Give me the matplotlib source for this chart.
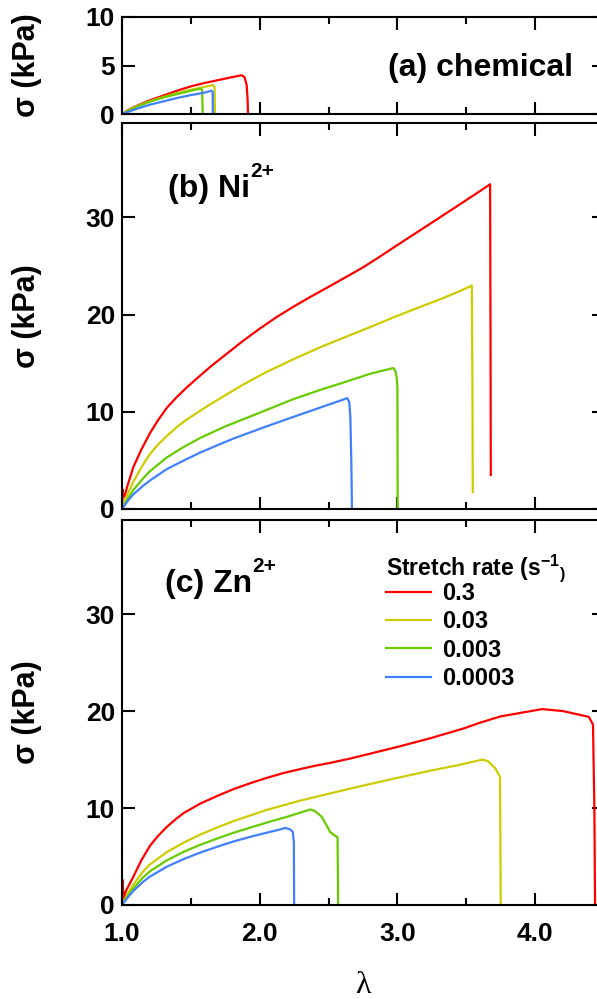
import matplotlib
matplotlib.use("Agg")
import matplotlib.pyplot as plt
from matplotlib.ticker import MultipleLocator, FormatStrFormatter

plt.rcParams['font.family'] = ['Liberation Sans', 'DejaVu Sans']
plt.rcParams['font.weight'] = 'bold'
plt.rcParams['mathtext.fontset'] = 'custom'
plt.rcParams['mathtext.rm'] = 'Liberation Sans:bold'
plt.rcParams['mathtext.bf'] = 'Liberation Sans:bold'
plt.rcParams['mathtext.it'] = 'Liberation Sans:bold'
plt.rcParams['mathtext.default'] = 'rm'

rates = ["0.3", "0.03", "0.003", "0.0003"]
colors = ["#ff0000", "#cccc00", "#66cc00", "#4080ff"]

# (a) chemical
a_x = [
    [1.0, 1.05, 1.1, 1.2, 1.3, 1.4, 1.5, 1.6, 1.7, 1.8, 1.87, 1.89, 1.905, 1.912, 1.915],
    [1.0, 1.05, 1.1, 1.2, 1.3, 1.4, 1.5, 1.6, 1.66, 1.672, 1.675],
    [1.0, 1.05, 1.1, 1.2, 1.3, 1.4, 1.5, 1.57, 1.582, 1.586],
    [1.0, 1.05, 1.1, 1.2, 1.3, 1.4, 1.5, 1.6, 1.65, 1.658, 1.66],
]
a_y = [
    [0, 0.45, 0.8, 1.4, 1.9, 2.4, 2.85, 3.2, 3.5, 3.8, 4.0, 3.8, 3.0, 1.5, 0],
    [0, 0.4, 0.75, 1.3, 1.75, 2.15, 2.5, 2.8, 2.98, 2.8, 0],
    [0, 0.35, 0.7, 1.25, 1.7, 2.05, 2.4, 2.62, 2.5, 0],
    [0, 0.25, 0.5, 0.95, 1.3, 1.65, 1.95, 2.2, 2.4, 2.3, 0],
]

# (b) Ni2+
b_x = [
    [1.0, 1.005, 1.01, 1.02, 1.04, 1.082, 1.14, 1.203, 1.26, 1.325, 1.397, 1.47, 1.55, 1.639,
     1.75, 1.88, 2.0, 2.124, 2.25, 2.366, 2.5, 2.607, 2.75, 2.85, 3.0, 3.092, 3.25, 3.455,
     3.6, 3.673, 3.676, 3.678],
    [1.0, 1.04, 1.082, 1.15, 1.2, 1.26, 1.325, 1.4, 1.47, 1.567, 1.639, 1.75, 1.88, 2.05,
     2.244, 2.45, 2.607, 2.8, 2.97, 3.15, 3.334, 3.45, 3.53, 3.54, 3.545, 3.547],
    [1.0, 1.04, 1.082, 1.15, 1.2, 1.325, 1.45, 1.567, 1.75, 2.0, 2.244, 2.45, 2.607, 2.8,
     2.97, 2.985, 2.995, 3.0, 3.002],
    [1.0, 1.04, 1.082, 1.15, 1.2, 1.325, 1.45, 1.567, 1.7, 1.81, 2.05, 2.29, 2.535, 2.636,
     2.65, 2.658, 2.665, 2.67],
]
b_y = [
    [0, 2.0, 1.2, 1.4, 2.4, 4.3, 6.1, 7.8, 9.1, 10.4, 11.5, 12.5, 13.5, 14.6,
     15.85, 17.3, 18.55, 19.75, 20.85, 21.8, 22.85, 23.7, 24.85, 25.75, 27.15, 28.0, 29.45, 31.35,
     32.7, 33.4, 18.0, 3.5],
    [0, 1.5, 2.8, 4.5, 5.6, 6.6, 7.5, 8.45, 9.2, 10.1, 10.75, 11.7, 12.8, 14.1,
     15.4, 16.7, 17.6, 18.7, 19.7, 20.7, 21.7, 22.4, 22.9, 23.0, 12.0, 1.75],
    [0, 1.0, 1.95, 3.1, 3.85, 5.3, 6.4, 7.3, 8.5, 9.9, 11.3, 12.3, 13.0, 13.9,
     14.5, 14.2, 13.5, 12.5, 0],
    [0, 0.8, 1.5, 2.35, 2.9, 4.1, 5.0, 5.8, 6.6, 7.25, 8.5, 9.7, 10.9, 11.4,
     11.0, 9.5, 5.0, 0],
]

# (c) Zn2+
c_x = [
    [1.0, 1.004, 1.008, 1.012, 1.03, 1.082, 1.14, 1.203, 1.26, 1.325, 1.39, 1.45, 1.567, 1.7,
     1.81, 1.95, 2.05, 2.17, 2.29, 2.4, 2.51, 2.656, 2.8, 3.0, 3.24, 3.48, 3.6, 3.75, 3.85,
     3.95, 4.05, 4.2, 4.39, 4.42, 4.43, 4.435],
    [1.0, 1.04, 1.082, 1.15, 1.2, 1.325, 1.45, 1.567, 1.7, 1.81, 2.05, 2.29, 2.51, 2.656,
     2.995, 3.24, 3.45, 3.62, 3.66, 3.71, 3.745, 3.75],
    [1.0, 1.04, 1.082, 1.15, 1.2, 1.325, 1.45, 1.567, 1.7, 1.81, 2.05, 2.2, 2.3, 2.366,
     2.4, 2.45, 2.49, 2.51, 2.54, 2.565, 2.57],
    [1.0, 1.04, 1.082, 1.15, 1.2, 1.325, 1.45, 1.567, 1.7, 1.81, 1.95, 2.05, 2.15, 2.184,
     2.22, 2.24, 2.248, 2.25],
]
c_y = [
    [0, 2.6, 1.5, 0.7, 1.5, 2.9, 4.6, 6.1, 7.1, 8.05, 8.85, 9.5, 10.45, 11.3,
     11.95, 12.65, 13.1, 13.6, 14.0, 14.35, 14.65, 15.1, 15.6, 16.3, 17.2, 18.2, 18.8, 19.45, 19.7,
     19.95, 20.2, 20.0, 19.4, 18.6, 10.0, 0],
    [0, 1.15, 2.1, 3.4, 4.15, 5.45, 6.45, 7.25, 8.05, 8.65, 9.8, 10.75, 11.5, 12.0,
     13.1, 13.85, 14.45, 15.0, 14.8, 14.1, 13.2, 0],
    [0, 0.85, 1.7, 2.8, 3.45, 4.6, 5.5, 6.2, 6.9, 7.45, 8.5, 9.1, 9.55, 9.85,
     9.7, 9.1, 8.1, 7.55, 7.2, 7.0, 0],
    [0, 0.75, 1.45, 2.35, 2.9, 3.95, 4.75, 5.4, 6.05, 6.55, 7.1, 7.45, 7.8, 7.95,
     7.8, 7.55, 6.5, 0],
]

fig = plt.figure(figsize=(5.97, 9.99), dpi=100)
L = 122 / 597
W = (604 - 122) / 597
ax_a = fig.add_axes([L, 1 - 114 / 999, W, 97 / 999])
ax_b = fig.add_axes([L, 1 - 509 / 999, W, 386 / 999])
ax_c = fig.add_axes([L, 1 - 905 / 999, W, 385 / 999])

for ax, xs, ys in [(ax_a, a_x, a_y), (ax_b, b_x, b_y), (ax_c, c_x, c_y)]:
    for x, y, c, r in zip(xs, ys, colors, rates):
        ax.plot(x, y, color=c, lw=1.6, label=r)
    ax.set_xlim(1.0, 4.5)
    ax.xaxis.set_major_locator(MultipleLocator(1.0))
    ax.xaxis.set_minor_locator(MultipleLocator(0.5))
    ax.tick_params(which='both', direction='in', top=True, right=True, width=1.5)
    ax.tick_params(which='major', length=9, labelsize=19, pad=5)
    ax.tick_params(which='minor', length=5)
    ax.tick_params(axis='x', which='both', pad=12)
    for s in ax.spines.values():
        s.set_linewidth(1.5)
    ax.set_ylabel("σ (kPa)", fontsize=22, fontweight='bold')
    ax.yaxis.set_label_coords(-0.166, 0.5)

ax_a.set_ylim(0, 10)
ax_a.set_yticks([0, 5, 10])
ax_b.set_ylim(0, 39.7)
ax_c.set_ylim(0, 39.7)
for ax in (ax_b, ax_c):
    ax.set_yticks([0, 10, 20, 30])
for ax in (ax_a, ax_b):
    ax.tick_params(axis='x', labelbottom=False)
ax_c.xaxis.set_major_formatter(FormatStrFormatter('%.1f'))

ax_c.set_xlabel("λ", fontsize=23, fontweight='normal', family=['Liberation Serif', 'DejaVu Serif'])
ax_c.xaxis.set_label_coords(0.5, -0.171)

ax_a.text(0.552, 0.47, "(a) chemical", transform=ax_a.transAxes, ha='left', va='center', fontsize=23)
tb = ax_b.text(0.095, 0.83, "(b) Ni", transform=ax_b.transAxes, ha='left', va='center', fontsize=23)
ax_b.annotate("2+", xy=(1.0, 0.88), xycoords=tb, ha='left', va='baseline', fontsize=15)
tc = ax_c.text(0.089, 0.835, "(c) Zn", transform=ax_c.transAxes, ha='left', va='center', fontsize=23)
ax_c.annotate("2+", xy=(1.0, 0.88), xycoords=tc, ha='left', va='baseline', fontsize=15)

leg = ax_c.legend(loc='upper left', bbox_to_anchor=(0.547, 0.915), frameon=False,
                  title="Stretch rate (s$^{-1}$$_{)}$", alignment='left',
                  fontsize=17, title_fontsize=16.5, handlelength=1.9, handletextpad=0.5,
                  labelspacing=0.22, borderpad=0, borderaxespad=0)
leg._legend_box.sep = -1.5

fig.savefig("out.png", dpi=100)
